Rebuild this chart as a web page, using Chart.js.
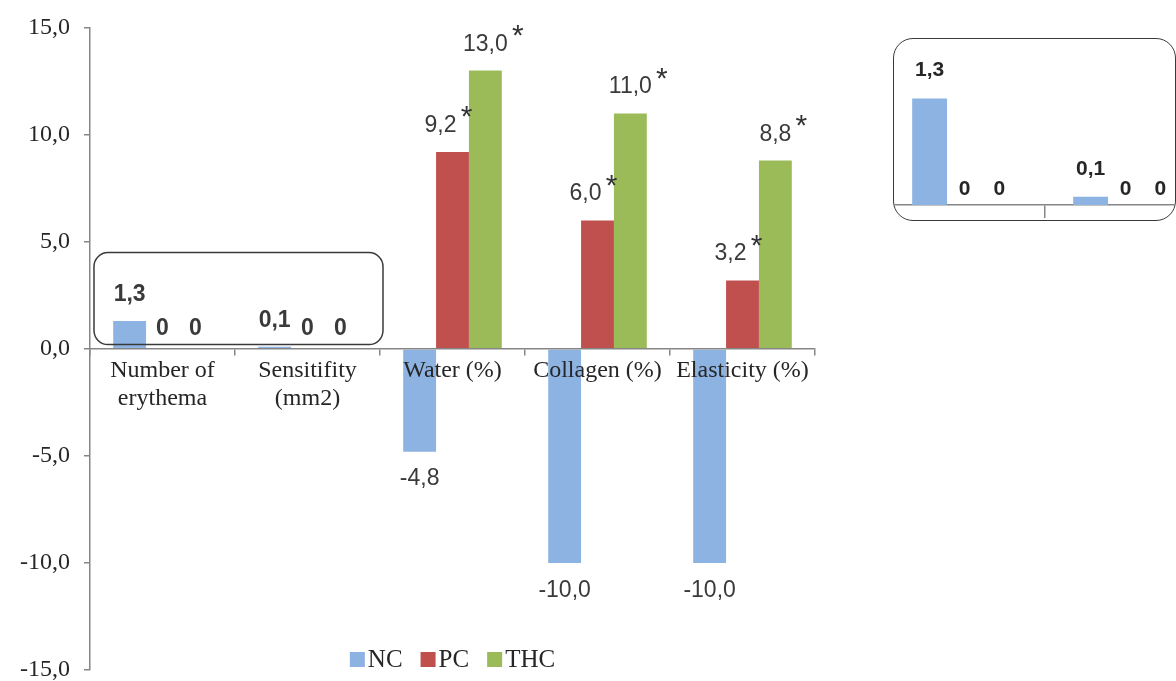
<!DOCTYPE html>
<html lang="en">
<head>
<meta charset="UTF-8">
<title>NC / PC / THC</title>
<script src="https://cdn.jsdelivr.net/npm/chart.js"></script>
<style>
  html, body { margin: 0; padding: 0; background: #fff; overflow: hidden; }
  #main { position: absolute; left: 0; top: 0; width: 1176px; height: 700px; }
  #inset { position: absolute; left: 893px; top: 38px; width: 281px; height: 181px;
           border: 1.5px solid #3a3a3a; border-radius: 20px; overflow: hidden; background: #fff; }
  #inset-wrap { position: relative; margin-left: -10px; width: 322px; height: 181px; }
</style>
</head>
<body>

<div id="main"><canvas id="chart"></canvas></div>
<div id="inset"><div id="inset-wrap"><canvas id="zoom"></canvas></div></div>

<script>
// data
const categories = [['Number of', 'erythema'], ['Sensitifity', '(mm2)'], 'Water (%)', 'Collagen (%)', 'Elasticity (%)'];
const seriesNames = ['NC', 'PC', 'THC'];
const ncValues = [1.3, 0.1, -4.8, -10.0, -10.0];
const pcValues = [0, 0, 9.2, 6.0, 3.2];
const thcValues = [0, 0, 13.0, 11.0, 8.8];
const pcStars = [false, false, true, true, true];
const thcStars = [false, false, true, true, true];
const yTicks = [-15, -10, -5, 0, 5, 10, 15];

const colors = ['#8db3e2', '#c0504d', '#9bbb59'];

function fmtValue(v) {
  return v === 0 ? '0' : v.toFixed(1).replace('.', ',');
}

// value labels above / below bars, with the * marks
const valueLabels = {
  id: 'valueLabels',
  afterDatasetsDraw(chart, args, o) {
    const ctx = chart.ctx;
    ctx.save();
    ctx.fillStyle = o.color;
    ctx.textAlign = 'center';
    chart.data.datasets.forEach((ds, di) => {
      const meta = chart.getDatasetMeta(di);
      meta.data.forEach((bar, i) => {
        const v = ds.data[i];
        const txt = fmtValue(v);
        const bold = i < o.boldUpTo;
        ctx.font = (bold ? 'bold ' : '') + o.size + 'px "Liberation Sans"';
        const star = ds.stars && ds.stars[i];
        const x = bar.x + (star ? o.starShift[di] : 0);
        let base;
        if (v < 0) {
          base = bar.y + o.negGap + o.size * 0.72;
        } else {
          base = bar.y - (v === 0 ? o.zeroGap : o.gap);
        }
        ctx.textBaseline = 'alphabetic';
        ctx.fillText(txt, x, base);
        if (star) {
          const w = ctx.measureText(txt).width;
          const top = base - o.size * 0.72;
          const cx = x + w / 2 + 10;
          const cy = top - 7;
          ctx.font = o.starSize + 'px "Liberation Sans"';
          ctx.fillStyle = '#333';
          ctx.fillText('*', cx, cy + o.starSize * 0.6);
          ctx.fillStyle = o.color;
        }
      });
    });
    ctx.restore();
  }
};

// rounded box round the first two groups
const groupBox = {
  id: 'groupBox',
  afterDatasetsDraw(chart, args, o) {
    if (!o.show) return;
    const xs = chart.scales.x, ys = chart.scales.y;
    const catW = (xs.right - xs.left) / chart.data.labels.length;
    const left = xs.left + 4;
    const right = xs.left + catW * 2 + 3;
    const top = ys.getPixelForValue(o.top);
    const bottom = ys.getPixelForValue(o.bottom);
    const ctx = chart.ctx;
    ctx.save();
    ctx.strokeStyle = '#3a3a3a';
    ctx.lineWidth = 1.5;
    ctx.beginPath();
    ctx.roundRect(left, top, right - left, bottom - top, 14);
    ctx.stroke();
    ctx.restore();
  }
};

// legend under the plot, centred on the plot area
const bottomLegend = {
  id: 'bottomLegend',
  afterDraw(chart, args, o) {
    if (!o.show) return;
    const ctx = chart.ctx;
    const area = chart.chartArea;
    ctx.save();
    ctx.font = '25px "Liberation Serif"';
    const box = 15, gapText = 3, gapItem = 18;
    const items = chart.data.datasets.map(ds => ({ label: ds.label, color: ds.backgroundColor, w: ctx.measureText(ds.label).width }));
    let total = 0;
    items.forEach((it, k) => { total += box + gapText + it.w + (k < items.length - 1 ? gapItem : 0); });
    let x = (area.left + area.right) / 2 - total / 2;
    const base = o.y;
    items.forEach(it => {
      ctx.fillStyle = it.color;
      ctx.fillRect(x, base - box, box, box);
      x += box + gapText;
      ctx.fillStyle = '#262626';
      ctx.textAlign = 'left';
      ctx.textBaseline = 'alphabetic';
      ctx.fillText(it.label, x, base);
      x += it.w + gapItem;
    });
    ctx.restore();
  }
};

function makeDatasets(n) {
  return [
    { label: seriesNames[0], data: ncValues.slice(0, n), backgroundColor: colors[0] },
    { label: seriesNames[1], data: pcValues.slice(0, n), backgroundColor: colors[1], stars: pcStars.slice(0, n) },
    { label: seriesNames[2], data: thcValues.slice(0, n), backgroundColor: colors[2], stars: thcStars.slice(0, n) }
  ];
}

const serif = { family: 'Liberation Serif', size: 24, lineHeight: 1.15 };

new Chart(document.getElementById('chart'), {
  type: 'bar',
  data: { labels: categories, datasets: makeDatasets(categories.length) },
  options: {
    responsive: true,
    maintainAspectRatio: false,
    animation: false,
    categoryPercentage: 0.68,
    barPercentage: 1.0,
    layout: { padding: { left: 6, top: 27, right: 361, bottom: 30 } },
    plugins: {
      legend: { display: false },
      tooltip: { enabled: false },
      valueLabels: { color: '#3a3a3a', size: 23, starSize: 30, boldUpTo: 2, gap: 20, zeroGap: 14, negGap: 17, starShift: [0, -12, 0] },
      groupBox: { show: true, top: 4.5, bottom: 0.2 },
      bottomLegend: { show: true, y: 667 }
    },
    scales: {
      x: {
        position: { y: 0 },
        grid: { drawOnChartArea: false, tickLength: 6, color: '#868686', lineWidth: 1.5 },
        border: { color: '#868686', width: 1.5, z: 1 },
        ticks: { z: 1, color: '#262626', font: serif, maxRotation: 0, minRotation: 0, autoSkip: false, padding: 2 }
      },
      y: {
        min: -15,
        max: 15,
        afterBuildTicks: s => { s.ticks = yTicks.map(v => ({ value: v })); },
        grid: { drawOnChartArea: false, tickLength: 6, color: '#868686', lineWidth: 1.5 },
        border: { color: '#868686', width: 1.5 },
        ticks: { color: '#262626', font: serif, padding: 14, callback: v => v.toFixed(1).replace('.', ',') }
      }
    }
  },
  plugins: [valueLabels, groupBox, bottomLegend]
});

// zoomed inset of the first two groups
new Chart(document.getElementById('zoom'), {
  type: 'bar',
  data: { labels: categories.slice(0, 2), datasets: makeDatasets(2) },
  options: {
    responsive: true,
    maintainAspectRatio: false,
    animation: false,
    categoryPercentage: 0.65,
    barPercentage: 1.0,
    layout: { padding: { left: 0, top: 2, right: 0, bottom: 2 } },
    plugins: {
      legend: { display: false },
      tooltip: { enabled: false },
      valueLabels: { color: '#262626', size: 21, starSize: 24, boldUpTo: 2, gap: 22, zeroGap: 10, negGap: 16, starShift: [0, 0, 0] }
    },
    scales: {
      x: {
        grid: {
          drawOnChartArea: false, tickLength: 13, lineWidth: 1.5,
          color: c => (c.index === 1 ? '#868686' : 'rgba(0,0,0,0)')
        },
        border: { color: '#868686', width: 1.5 },
        ticks: { display: false }
      },
      y: { display: false, min: 0, max: 2 }
    }
  },
  plugins: [valueLabels]
});
</script>

</body>
</html>
